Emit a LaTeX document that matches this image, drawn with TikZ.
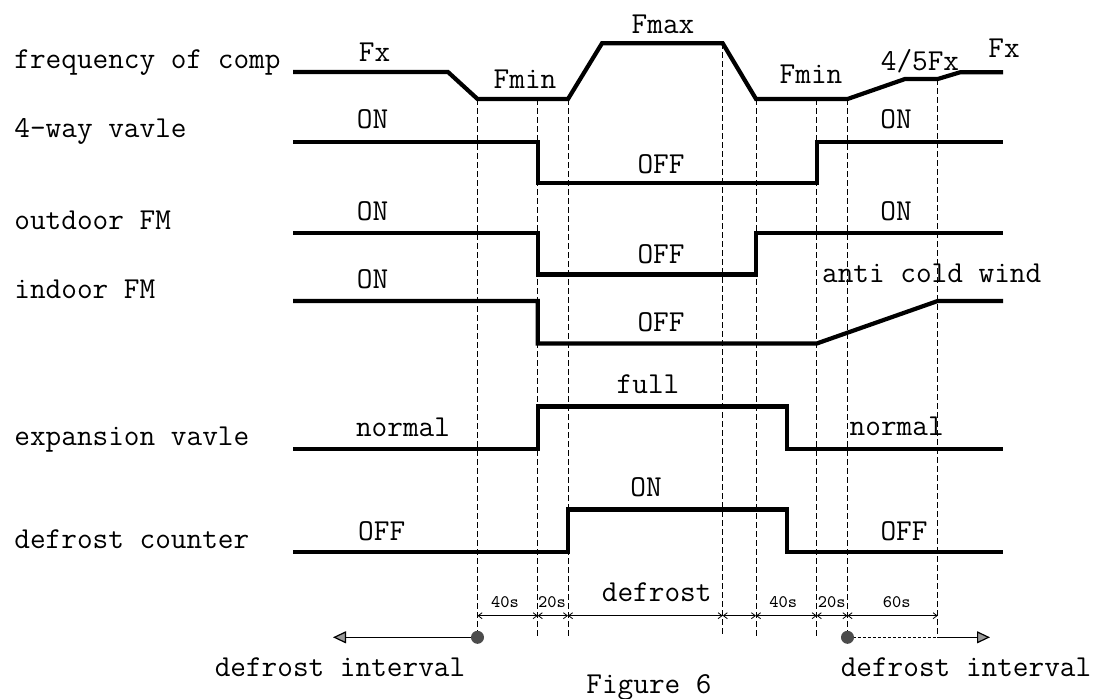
\documentclass[tikz,border=0pt]{standalone}
\usepackage{fontspec}
\usetikzlibrary{arrows.meta}

\tikzset{
  wave/.style={line width=2.1pt, line join=miter},
  guide/.style={line width=0.5pt, dash pattern=on 3pt off 1.5pt},
  txt/.style={anchor=base, inner sep=0pt, font=\ttfamily\fontsize{15.2}{16}\selectfont},
  rowname/.style={txt, anchor=base west},
  secs/.style={anchor=base, inner sep=0pt, font=\ttfamily\fontsize{8.8}{10}\selectfont},
  dimline/.style={line width=0.4pt, {Straight Barb[length=2pt,width=3pt]}-{Straight Barb[length=2pt,width=3pt]}},
  intervalarrow/.style={line width=0.6pt, -{Triangle[length=6.5pt,width=6pt,fill=black!40]}},
}

\begin{document}
\begin{tikzpicture}[x=0.5pt, y=-0.5pt]
\useasboundingbox (0,0) rectangle (1094,698);
% --- row names ---
\node[rowname] (nfreq) at (14,68.3) {frequency of comp};
\node[rowname] (nfourway) at (14,137.3) {4-way vavle};
\node[rowname] (noutdoor) at (14,229.3) {outdoor FM};
\node[rowname] (nindoor) at (14,298.3) {indoor FM};
\node[rowname] (nexpansion) at (14,445) {expansion vavle};
\node[rowname] (ncounter) at (14,548.3) {defrost counter};
% --- dashed time marks ---
\foreach \x/\top in {477.5/99, 537.7/99, 568/99, 722.7/43.3, 756/99, 816.7/99, 847.5/99, 937.7/79}
  \draw[guide] (\x,\top) -- (\x,637.3);
% --- waveforms ---
\draw[wave] (293,72) -- (448,72) -- (477.5,99) -- (568,99) -- (602,43.3) -- (722.7,43.3)
  -- (756,99) -- (847.5,99) -- (905,79) -- (937.7,79) -- (960,72.3) -- (1003,72.3);
\draw[wave] (293,141.7) -- (537.7,141.7) -- (537.7,183) -- (816.7,183) -- (816.7,141.7) -- (1003,141.7);
\draw[wave] (293,233.3) -- (537.7,233.3) -- (537.7,274.5) -- (756,274.5) -- (756,233.3) -- (1003,233.3);
\draw[wave] (293,301) -- (537.7,301) -- (537.7,343.5) -- (816.7,343.5) -- (937.7,301) -- (1003,301);
\draw[wave] (293,449) -- (537.7,449) -- (537.7,406.5) -- (787,406.5) -- (787,449) -- (1003,449);
\draw[wave] (293,552) -- (568,552) -- (568,509.5) -- (787,509.5) -- (787,552) -- (1003,552);
% --- level labels ---
\node[txt] (fx1) at (374.5,61.7) {Fx};
\node[txt] (fmin1) at (525,88.3) {Fmin};
\node[txt] (fmax) at (663,33.3) {Fmax};
\node[txt] (fmin2) at (811,83.3) {Fmin};
\node[txt] (fx45) at (920,70) {4/5Fx};
\node[txt] (fx2) at (1004,57.3) {Fx};
\node[txt] (fwon1) at (372.6,128.3) {ON};
\node[txt] (fwoff) at (661,173.3) {OFF};
\node[txt] (fwon2) at (896,128) {ON};
\node[txt] (odon1) at (372.6,220) {ON};
\node[txt] (odoff) at (661,263.3) {OFF};
\node[txt] (odon2) at (896,220) {ON};
\node[txt] (idon) at (372.6,288.3) {ON};
\node[txt] (idoff) at (661,331.7) {OFF};
\node[txt] (antiwind) at (931.7,282.7) {anti cold wind};
\node[txt] (evfull) at (648,393.3) {full};
\node[txt] (evnormal1) at (403,436) {normal};
\node[txt] (evnormal2) at (896.7,435) {normal};
\node[txt] (dcon) at (646,496.7) {ON};
\node[txt] (dcoff1) at (381.7,540) {OFF};
\node[txt] (dcoff2) at (904,540) {OFF};
% --- time spans ---
\foreach \a/\b in {477.5/537.7, 537.7/568, 568/722.7, 722.7/756, 756/816.7, 816.7/847.5, 847.5/937.7}
  \draw[dimline] (\a,615.7) -- (\b,615.7);
\node[secs] (t40a) at (505,607.3) {40s};
\node[secs] (t20a) at (552,607.3) {20s};
\node[txt] (tdefrost) at (656.7,601.7) {defrost};
\node[secs] (t40b) at (783.3,607.3) {40s};
\node[secs] (t20b) at (831.7,607.3) {20s};
\node[secs] (t60) at (896.7,607.3) {60s};
% --- defrost interval arrows ---
\coordinate (dotL) at (477.5,637.3);
\coordinate (tipL) at (333,637.3);
\coordinate (dotR) at (847.5,637.3);
\coordinate (midR) at (937.7,637.3);
\coordinate (tipR) at (990,637.3);
\draw[intervalarrow] (dotL) -- (tipL);
\draw[line width=0.6pt, dash pattern=on 1.5pt off 1pt] (dotR) -- (midR);
\draw[intervalarrow] (midR) -- (tipR);
\fill[black!70] (dotL) circle (6.5) (dotR) circle (6.5);
\node[txt] (intL) at (340,676.7) {defrost interval};
\node[txt] (intR) at (966,676.7) {defrost interval};
\node[txt] (caption) at (649,693) {Figure 6};
\end{tikzpicture}
\end{document}
